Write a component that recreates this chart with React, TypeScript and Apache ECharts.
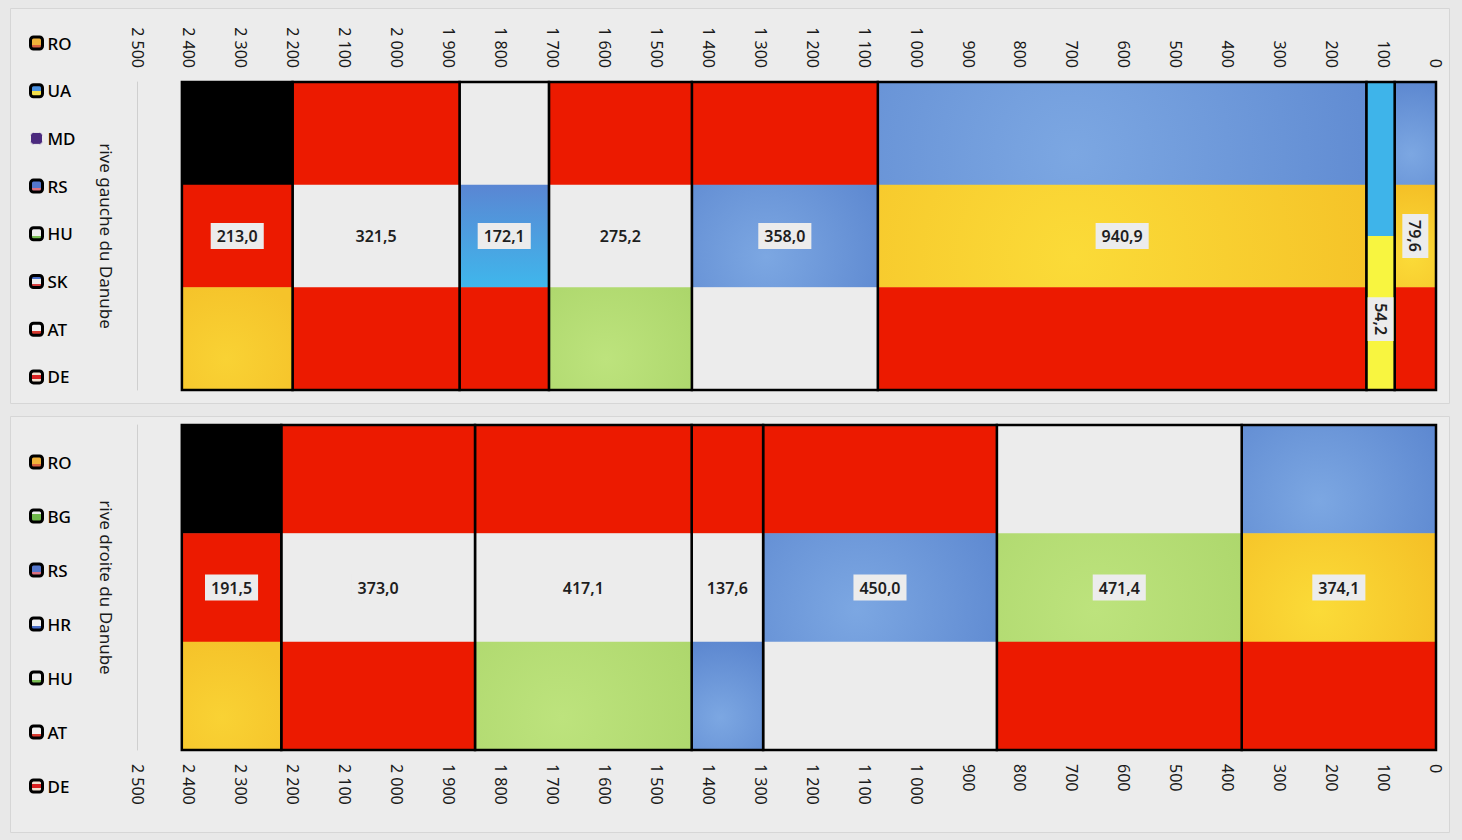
import React, { useEffect, useRef } from "react";
import * as echarts from "echarts";

// ---------- data ----------
const AXIS_MIN = 0;
const AXIS_MAX = 2500;
const AXIS_STEP = 100;

const LEFT_TITLE = "rive gauche du Danube";
const LEFT_LEGEND = ["RO", "UA", "MD", "RS", "HU", "SK", "AT", "DE"];
const LEFT_COUNTRIES = ["RO", "UA", "RO", "RS", "HU", "SK", "AT", "DE"];
const LEFT_LENGTHS = [79.6, 54.2, 940.9, 358.0, 275.2, 172.1, 321.5, 213.0];

const RIGHT_TITLE = "rive droite du Danube";
const RIGHT_LEGEND = ["RO", "BG", "RS", "HR", "HU", "AT", "DE"];
const RIGHT_COUNTRIES = ["RO", "BG", "RS", "HR", "HU", "AT", "DE"];
const RIGHT_LENGTHS = [374.1, 471.4, 450.0, 137.6, 417.1, 373.0, 191.5];

// ---------- styles ----------
const FONT = "'Noto Sans', 'DejaVu Sans', sans-serif";
const RED = "#ec1a00";
const WHITE = "#ececec";
const BLACK = "#000000";
const BLUE = { rad: ["#7ca7e2", "#5b86cf"] };
const YELLOW = { rad: ["#fbdb38", "#f4be25"] };
const GOLD = { rad: ["#f9d234", "#f5c32a"] };
const GREEN = { rad: ["#bde37d", "#acd66b"] };
const SKBLUE = { vert: ["#5a86d3", "#3fb7ec"] };
const UABLUE = "#3eb4ea";
const UAYELLOW = "#f8f540";

const FLAGS: Record<string, any[]> = {
  DE: [BLACK, RED, GOLD],
  AT: [RED, WHITE, RED],
  SK: [WHITE, SKBLUE, RED],
  HU: [RED, WHITE, GREEN],
  RS: [RED, BLUE, WHITE],
  HR: [RED, WHITE, BLUE],
  BG: [WHITE, GREEN, RED],
  RO: [BLUE, YELLOW, RED],
  UA: [UABLUE, UAYELLOW],
  MD: ["#4b2a7e"],
};

const ICONS: Record<string, string[]> = {
  RO: ["#f1b23a", "#f1b23a", "#d8613f"],
  UA: ["#4a90e0", "#f4e04a"],
  MD: ["#4b2a7e"],
  RS: ["#5577cc", "#5577cc", "#dc7080"],
  HU: ["#eeeeee", "#eeeeee", "#7bbf56"],
  SK: ["#4a6fc8", "#eeeeee", "#d84040"],
  AT: ["#f2f2f2", "#f2f2f2", "#d83a30"],
  DE: ["#f0e0d0", "#d82020", "#f0e0d0"],
  BG: ["#eeeeee", "#6fb84a", "#6fb84a"],
  HR: ["#f0f0f0", "#f0f0f0", "#4a6fc8"],
};

function makeFill(f: any, x: number, y: number, w: number, h: number) {
  if (typeof f === "string") return f;
  if (f.rad)
    return new echarts.graphic.RadialGradient(
      x + w * 0.4,
      y + h * 0.7,
      Math.max(w, h) * 0.75,
      [
        { offset: 0, color: f.rad[0] },
        { offset: 1, color: f.rad[1] },
      ],
      true
    );
  return new echarts.graphic.LinearGradient(0, 0, 0, 1, [
    { offset: 0, color: f.vert[0] },
    { offset: 1, color: f.vert[1] },
  ]);
}

function iconFill(cols: string[]) {
  if (cols.length === 1) return cols[0];
  const stops: any[] = [];
  cols.forEach((c, i) => {
    stops.push({ offset: i / cols.length, color: c });
    stops.push({ offset: (i + 1) / cols.length, color: c });
  });
  return new echarts.graphic.LinearGradient(0, 0, 0, 1, stops);
}

const fmtValue = (v: number) => v.toFixed(1).replace(".", ",");
const fmtTick = (v: number) =>
  v >= 1000 ? `${Math.floor(v / 1000)} ${String(v % 1000).padStart(3, "0")}` : String(v);

function makeRender(name: string) {
  return (params: any, api: any) => {
    const s = api.value(0);
    const e = api.value(1);
    const len = api.value(2);
    const a = api.coord([s, 1]);
    const b = api.coord([e, 0]);
    const x0 = Math.min(a[0], b[0]);
    const x1 = Math.max(a[0], b[0]);
    const y0 = a[1];
    const y1 = b[1];
    const w = x1 - x0;
    const h = y1 - y0;
    const stripes = FLAGS[name];
    const n = stripes.length;
    const children: any[] = stripes.map((f, i) => {
      const sy = y0 + (h * i) / n;
      const sh = h / n + (i < n - 1 ? 0.5 : 0);
      return {
        type: "rect",
        shape: { x: x0, y: sy, width: w, height: sh },
        style: { fill: makeFill(f, x0, sy, w, sh) },
      };
    });
    children.push({
      type: "rect",
      shape: { x: x0, y: y0, width: w, height: h },
      style: { fill: "none", stroke: "#000", lineWidth: 2.5 },
    });
    const rot = w < 60;
    const ly = n === 2 ? y0 + h * 0.77 : y0 + h / 2;
    children.push({
      type: "text",
      x: (x0 + x1) / 2,
      y: ly,
      rotation: rot ? -Math.PI / 2 : 0,
      style: {
        text: fmtValue(len),
        fill: "#1e1e1e",
        font: `600 16px ${FONT}`,
        backgroundColor: WHITE,
        padding: [5, 6],
        align: "center",
        verticalAlign: "middle",
      },
    });
    return { type: "group", children };
  };
}

function buildSeries(countries: string[], lengths: number[], legend: string[], idx: number) {
  const segs: any[] = [];
  let acc = 0;
  countries.forEach((c, i) => {
    segs.push({ c, start: acc, end: acc + lengths[i], len: lengths[i] });
    acc += lengths[i];
  });
  return legend.map((name) => ({
    type: "custom",
    name,
    xAxisIndex: idx,
    yAxisIndex: idx,
    encode: { x: [0, 1] },
    data: segs.filter((sg) => sg.c === name).map((sg) => [sg.start, sg.end, sg.len]),
    renderItem: makeRender(name),
  }));
}

function legendData(names: string[]) {
  return names.map((n) => ({
    name: n,
    icon: "roundRect",
    itemStyle:
      n === "MD"
        ? { color: ICONS[n][0], borderColor: "#ececec", borderWidth: 1 }
        : { color: iconFill(ICONS[n]), borderColor: "#000", borderWidth: 3 },
  }));
}

function xAxis(idx: number, pos: "top" | "bottom") {
  return {
    type: "value",
    gridIndex: idx,
    position: pos,
    inverse: true,
    min: AXIS_MIN,
    max: AXIS_MAX,
    interval: AXIS_STEP,
    axisLine: { show: false },
    axisTick: { show: false },
    splitLine: { show: false },
    axisLabel: {
      rotate: -90,
      margin: 14,
      fontSize: 16,
      fontFamily: FONT,
      color: "#1a1a1a",
      formatter: fmtTick,
    },
  };
}

function yAxis(idx: number, title: string) {
  return {
    type: "value",
    gridIndex: idx,
    min: 0,
    max: 1,
    position: "left",
    axisLine: { show: true, onZero: false, lineStyle: { color: "#cfcfcf", width: 1 } },
    axisTick: { show: false },
    axisLabel: { show: false },
    splitLine: { show: false },
    name: title,
    nameLocation: "middle",
    nameRotate: -90,
    nameGap: 23,
    nameTextStyle: { fontSize: 17, fontFamily: FONT, color: "#1a1a1a" },
  };
}

function legend(top: number, gap: number, names: string[]) {
  return {
    orient: "vertical",
    left: 29,
    top,
    padding: 0,
    itemWidth: 12,
    itemHeight: 12,
    itemGap: gap,
    selectedMode: false,
    textStyle: { fontSize: 17, lineHeight: 17, fontFamily: FONT, color: "#000", fontWeight: 500 },
    data: legendData(names),
  };
}

export default function App() {
  const ref = useRef<HTMLDivElement>(null);
  useEffect(() => {
    if (!ref.current) return;
    const chart = echarts.init(ref.current, undefined, { renderer: "svg" });
    const option: any = {
      animation: false,
      backgroundColor: "#e8e8e8",
      graphic: [
        {
          type: "rect",
          z: -10,
          shape: { x: 10.5, y: 8.5, width: 1439, height: 395 },
          style: { fill: "#ececec", stroke: "#d6d6d6", lineWidth: 1 },
        },
        {
          type: "rect",
          z: -10,
          shape: { x: 10.5, y: 416.5, width: 1439, height: 416 },
          style: { fill: "#ececec", stroke: "#d6d6d6", lineWidth: 1 },
        },
      ],
      legend: [legend(34.5, 30.7, LEFT_LEGEND), legend(453.5, 37, RIGHT_LEGEND)],
      grid: [
        { left: 137.5, right: 26, top: 82, height: 308 },
        { left: 137.5, right: 26, top: 425, height: 325 },
      ],
      xAxis: [xAxis(0, "top"), xAxis(1, "bottom")],
      yAxis: [yAxis(0, LEFT_TITLE), yAxis(1, RIGHT_TITLE)],
      series: [
        ...buildSeries(LEFT_COUNTRIES, LEFT_LENGTHS, LEFT_LEGEND, 0),
        ...buildSeries(RIGHT_COUNTRIES, RIGHT_LENGTHS, RIGHT_LEGEND, 1),
      ],
    };
    chart.setOption(option);
    return () => chart.dispose();
  }, []);
  return (
    <div
      ref={ref}
      style={{ position: "fixed", left: 0, top: 0, width: 1462, height: 840 }}
    />
  );
}
